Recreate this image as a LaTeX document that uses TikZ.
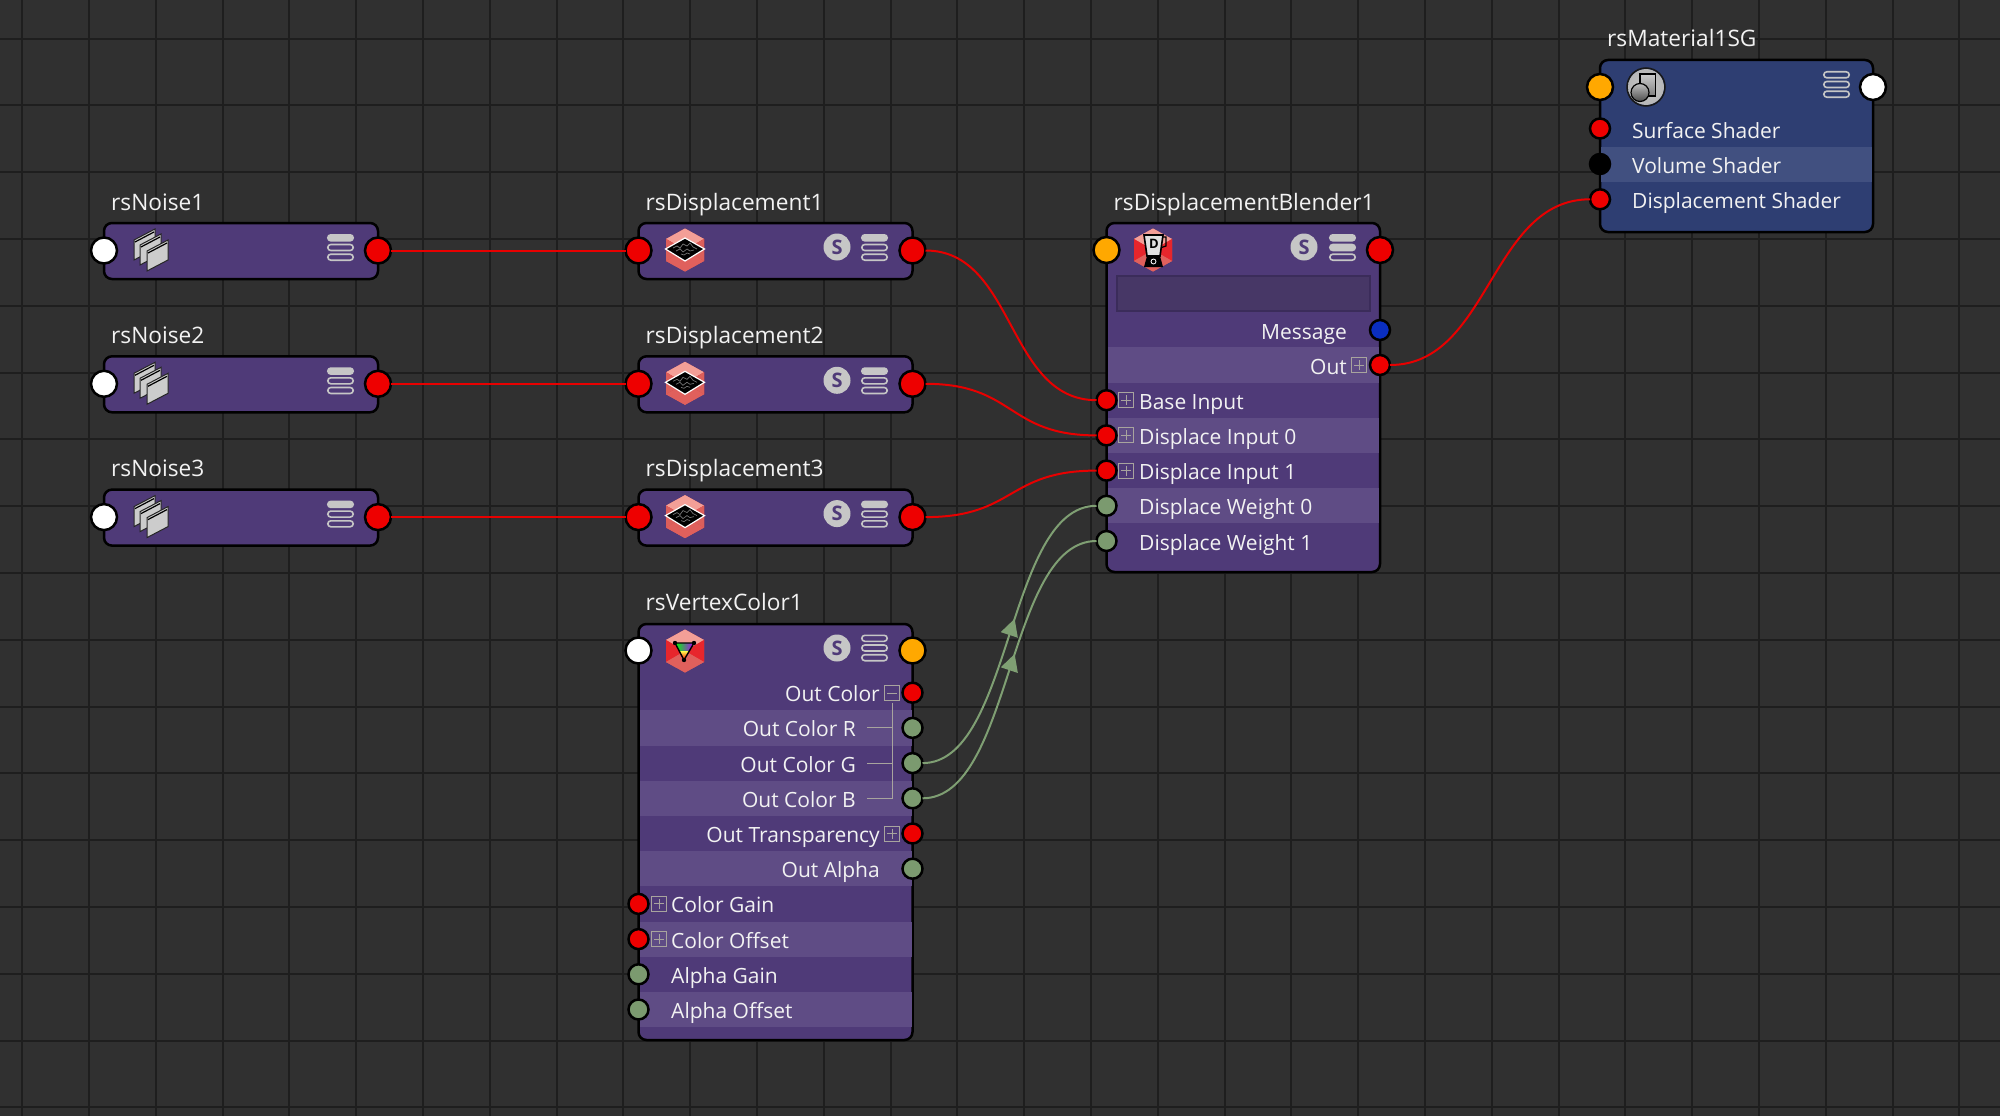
\documentclass[tikz,border=0pt]{standalone}
\usepackage{fontspec}
\setmainfont{Open Sans}
\usetikzlibrary{arrows.meta,decorations.markings,shapes.geometric,calc}
\definecolor{bgc}{HTML}{303030}
\definecolor{gridc}{HTML}{1E1E1E}
\definecolor{purp}{HTML}{4F3A78}
\definecolor{purpl}{HTML}{5F4C85}
\definecolor{blu}{HTML}{2E3E72}
\definecolor{blul}{HTML}{415080}
\definecolor{redp}{HTML}{EE0000}
\definecolor{orgp}{HTML}{FFA800}
\definecolor{grnp}{HTML}{7B9A6F}
\definecolor{blup}{HTML}{0A2EC0}
\definecolor{txt}{HTML}{F2F2F2}
\definecolor{wire}{HTML}{E80000}
\definecolor{gwire}{HTML}{7F9F73}
\definecolor{hamc}{HTML}{C6C6C6}
\definecolor{boxc}{HTML}{A8A49E}
\tikzset{
  x=1pt,y=-1pt,
  body/.style={draw=black,line width=2.5pt,rounded corners=8pt,anchor=north west,inner sep=0pt,outer sep=0pt},
  bigport/.style={circle,draw=black,line width=2.5pt,minimum size=26pt,inner sep=0pt,outer sep=0pt},
  smallport/.style={circle,draw=black,line width=2.5pt,minimum size=20pt,inner sep=0pt,outer sep=0pt},
  title/.style={anchor=base west,text=txt,inner sep=0pt,font=\fontsize{22.7}{25}\selectfont},
  rowr/.style={anchor=base east,text=txt,inner sep=0pt,yshift=-9pt,font=\fontsize{21}{24}\selectfont},
  rowl/.style={anchor=base west,text=txt,inner sep=0pt,yshift=-9pt,font=\fontsize{21}{24}\selectfont},
  scirc/.style={circle,fill=hamc,minimum size=27pt,inner sep=0pt,text=purp,font=\fontsize{20}{21}\bfseries\selectfont},
  redwire/.style={draw=wire,line width=2pt},
  greenwire/.style={draw=gwire,line width=2pt,postaction={decorate},
    decoration={markings,mark=at position 0.55 with {\arrow[gwire,line width=0pt]{Triangle[length=17pt,width=18pt]}}}},
  boxline/.style={draw=boxc,line width=1pt},
}
\newcommand{\hambars}[3]{% x y nfilled
  \foreach \i in {1,2,3}{
    \pgfmathsetmacro{\yy}{#2+(\i-2)*9.7}
    \ifnum\i>#3\relax
      \draw[hamc,line width=1.6pt,rounded corners=3pt] (#1+0.8,\yy-3) rectangle (#1+26.2,\yy+3);
    \else
      \draw[hamc,fill=hamc,line width=1.6pt,rounded corners=3pt] (#1+0.8,\yy-3) rectangle (#1+26.2,\yy+3);
    \fi
  }}
\newcommand{\plusbox}[2]{\draw[boxline] (#1-7.5,#2-7.5) rectangle (#1+7.5,#2+7.5);
  \draw[boxline] (#1-5,#2) -- (#1+5,#2) (#1,#2-5) -- (#1,#2+5);}
\newcommand{\minusbox}[2]{\draw[boxline] (#1-7.5,#2-7.5) rectangle (#1+7.5,#2+7.5);
  \draw[boxline] (#1-5,#2) -- (#1+5,#2);}
\newcommand{\noiseicon}[2]{\begin{scope}[shift={(#1,#2)}]
  \foreach \dx/\dy in {-13/-11,-7/-6,0/0}{
    \draw[fill=black!20,draw=black!85,line width=1pt,shift={(\dx,\dy)}]
      (-4,1) -- (17,-10) -- (17,10) -- (-4,21) -- cycle;
    \draw[black,line width=1.2pt,shift={(\dx,\dy)}] (-3,3) -- (16,-7);
  }
\end{scope}}
\definecolor{HexLow}{HTML}{DB5F5B}
\definecolor{HexTop}{HTML}{F39F97}
\definecolor{HexBand}{HTML}{E7262C}
\definecolor{HexMid}{HTML}{E0605C}
\newcommand{\hexbase}[2]{\begin{scope}[shift={(#1,#2)}]
  \fill[HexLow] (0,-21.5) -- (19,-11) -- (19,11) -- (0,21.5) -- (-19,11) -- (-19,-11) -- cycle;
  \fill[HexTop] (0,-21.5) -- (19,-11) -- (0,0) -- (-19,-11) -- cycle;
  \fill[HexBand] (-19,-11) -- (0,0) -- (-19,11) -- cycle;
  \fill[HexBand] (19,-11) -- (0,0) -- (19,11) -- cycle;
  \fill[HexMid] (-19,11) -- (0,0) -- (19,11) -- (0,21.5) -- cycle;
\end{scope}}
\newcommand{\dispicon}[2]{\hexbase{#1}{#2}\begin{scope}[shift={(#1,#2)}]
  \fill[HexLow] (-19,-11) -- (0,0) -- (-19,11) -- cycle;
  \fill[HexLow] (19,-11) -- (0,0) -- (19,11) -- cycle;
  \draw[white,fill=black,line width=1.2pt] (-19.5,-1) -- (0,-12) -- (19.5,-1) -- (0,11) -- cycle;
  \draw[black!55,line width=.7pt] (-12,-2) -- (-8,-4) -- (-5,-2) -- (-2,-6) -- (2,-4) -- (5,-7) -- (8,-3) -- (12,-1)
     (-9,1) -- (-5,-1) -- (-2,2) -- (2,-1) -- (5,1) -- (9,0)
     (-4,4) -- (-1,5) -- (2,3) -- (5,4);
\end{scope}}
\newcommand{\blendicon}[2]{\hexbase{#1}{#2}\begin{scope}[shift={(#1,#2)}]
  \draw[black,line width=1.2pt] (8,-13) -- (13,-13) -- (13,-4) -- (7,-2);
  \draw[black,fill=black!12,line width=1.6pt] (-9,-15) -- (10,-15) -- (7,6) -- (-6,6) -- cycle;
  \node[inner sep=0pt,text=black,font=\fontsize{13}{14}\bfseries\selectfont] (blendD) at (1,-6) {D};
  \fill[black] (-6,6) -- (7,6) -- (10,17) -- (-9,17) -- cycle;
  \draw[white,line width=.8pt] (0.5,11.5) circle (2.5);
\end{scope}}
\newcommand{\vcicon}[2]{\hexbase{#1}{#2}\begin{scope}[shift={(#1,#2)}]
  \shade[left color=green,right color=magenta!70!blue] (-10,-8) -- (9,-8) -- (-1,9) -- cycle;
  \shade[top color=white!30!yellow,bottom color=red] (-5.5,0) -- (4.5,0) -- (-1,9) -- cycle;
  \draw[black,line width=1.4pt] (-10,-8) -- (9,-8) -- (-1,9) -- cycle;
  \fill[black] (-10,-8) circle (2.2) (9,-8) circle (2.2) (-1,9) circle (2.2);
\end{scope}}
\newcommand{\sgicon}[2]{\begin{scope}[shift={(#1,#2)}]
  \shade[inner color=black!22,outer color=black!28] (0,0) circle (18);
  \draw[black!90,line width=1.5pt] (0,0) circle (19);
  \draw[black,line width=1.2pt,top color=black!20,bottom color=black!50] (-6,-13) rectangle (9.5,9);
  \draw[black,line width=1.2pt,top color=black!25,bottom color=black!70] (-6,5.5) circle (9);
\end{scope}}
\begin{document}
\begin{tikzpicture}
\useasboundingbox (0,0) rectangle (2000,1116);
\fill[bgc] (0,0) rectangle (2000,1116);
% grid
\foreach \k in {-1,...,28}{\draw[gridc,line width=2pt] ({89+66.8*\k},0) -- ({89+66.8*\k},1116);}
\foreach \k in {-3,...,13}{\draw[gridc,line width=2pt] (0,{239+66.8*\k}) -- (2000,{239+66.8*\k});}

% bodies
\node[body,fill=purp,minimum width=274pt,minimum height=56pt] (n1) at (104,223) {};
\node[body,fill=purp,minimum width=274pt,minimum height=56pt] (n2) at (104,356.3) {};
\node[body,fill=purp,minimum width=274pt,minimum height=56pt] (n3) at (104,489.6) {};
\node[body,fill=purp,minimum width=274pt,minimum height=56pt] (d1) at (638.5,223) {};
\node[body,fill=purp,minimum width=274pt,minimum height=56pt] (d2) at (638.5,356.3) {};
\node[body,fill=purp,minimum width=274pt,minimum height=56pt] (d3) at (638.5,489.6) {};
\node[body,fill=purp,minimum width=273.5pt,minimum height=349pt] (bl) at (1106.5,223) {};
\node[body,fill=purp,minimum width=274pt,minimum height=416pt] (vc) at (638.5,624) {};
\node[body,fill=blu,minimum width=273pt,minimum height=172pt] (sg) at (1600,60) {};

% stripes
\foreach \y in {365,435.4,505.8}{\fill[purpl] (1108,\y-17.6) rectangle (1379,\y+17.6);}
\foreach \y in {727.9,798.3,868.7,939.1,1009.5}{\fill[purpl] (640,\y-17.6) rectangle (911.5,\y+17.6);}
\fill[blul] (1601.3,146.5) rectangle (1871.7,181.7);

% text field
\draw[draw=purp!75!black,fill=purp!75!bgc,line width=1.5pt] (1117,276) rectangle (1370,311);

% titles
\node[title] (tn1) at (111,210) {rsNoise1};
\node[title] (tn2) at (111,343.3) {rsNoise2};
\node[title] (tn3) at (111,476.6) {rsNoise3};
\node[title] (td1) at (645.5,210) {rsDisplacement1};
\node[title] (td2) at (645.5,343.3) {rsDisplacement2};
\node[title] (td3) at (645.5,476.6) {rsDisplacement3};
\node[title] (tbl) at (1113.5,210) {rsDisplacementBlender1};
\node[title] (tvc) at (645.5,610) {rsVertexColor1};
\node[title] (tsg) at (1607,47) {rsMaterial1SG};

% icons and header controls
\noiseicon{151}{250}\noiseicon{151}{383.3}\noiseicon{151}{516.6}
\dispicon{685}{250}\dispicon{685}{383.3}\dispicon{685}{516.6}
\blendicon{1153}{250}
\vcicon{685}{651}
\sgicon{1646}{87}
\hambars{327}{247.5}{1}\hambars{327}{380.8}{1}\hambars{327}{514.1}{1}
\hambars{861}{247.5}{1}\hambars{861}{380.8}{1}\hambars{861}{514.1}{1}
\hambars{1329}{247.5}{2}
\hambars{861}{648}{0}
\hambars{1823}{84.5}{0}
\node[scirc] (s1) at (837,247) {S};
\node[scirc] (s2) at (837,380.3) {S};
\node[scirc] (s3) at (837,513.6) {S};
\node[scirc] (s4) at (1304,247) {S};
\node[scirc] (s5) at (837,648) {S};

% blender rows
\node[rowr] (lmsg) at (1347,330) {Message};
\node[rowr] (lout) at (1347,365) {Out};
\plusbox{1359}{365}
\plusbox{1126}{400.2}\plusbox{1126}{435.4}\plusbox{1126}{470.6}
\node[rowl] (lbase) at (1139,400.2) {Base Input};
\node[rowl] (ld0) at (1139,435.4) {Displace Input 0};
\node[rowl] (ld1) at (1139,470.6) {Displace Input 1};
\node[rowl] (lw0) at (1139,505.8) {Displace Weight 0};
\node[rowl] (lw1) at (1139,541) {Displace Weight 1};

% vertex colour rows
\node[rowr] (voc) at (880,692.7) {Out Color};
\node[rowr] (vr) at (856,727.9) {Out Color R};
\node[rowr] (vg) at (856,763.1) {Out Color G};
\node[rowr] (vb) at (856,798.3) {Out Color B};
\node[rowr] (vt) at (880,833.5) {Out Transparency};
\node[rowr] (va) at (880,868.7) {Out Alpha};
\node[rowl] (vcg) at (671,903.9) {Color Gain};
\node[rowl] (vco) at (671,939.1) {Color Offset};
\node[rowl] (vag) at (671,974.3) {Alpha Gain};
\node[rowl] (vao) at (671,1009.5) {Alpha Offset};
\minusbox{892}{693}
\plusbox{892}{833.5}
\plusbox{659}{903.9}\plusbox{659}{939.1}
\draw[boxline] (892,703) -- (892,798.3) -- (867,798.3) (892,727.9) -- (867,727.9) (892,763.1) -- (867,763.1);

% material rows
\node[rowl] (ms) at (1632,129) {Surface Shader};
\node[rowl] (mv) at (1632,164.3) {Volume Shader};
\node[rowl] (md) at (1632,199.5) {Displacement Shader};

% ports
\node[bigport,fill=white] (n1i) at (104,250.5) {};
\node[bigport,fill=redp] (n1o) at (378,250.5) {};
\node[bigport,fill=white] (n2i) at (104,383.8) {};
\node[bigport,fill=redp] (n2o) at (378,383.8) {};
\node[bigport,fill=white] (n3i) at (104,517.1) {};
\node[bigport,fill=redp] (n3o) at (378,517.1) {};
\node[bigport,fill=redp] (d1i) at (638.5,250.5) {};
\node[bigport,fill=redp] (d1o) at (912.5,250.5) {};
\node[bigport,fill=redp] (d2i) at (638.5,383.8) {};
\node[bigport,fill=redp] (d2o) at (912.5,383.8) {};
\node[bigport,fill=redp] (d3i) at (638.5,517.1) {};
\node[bigport,fill=redp] (d3o) at (912.5,517.1) {};
\node[bigport,fill=orgp] (bli) at (1106.5,250) {};
\node[bigport,fill=redp] (blo) at (1380,250) {};
\node[smallport,fill=blup] (blm) at (1380,330) {};
\node[smallport,fill=redp] (blout) at (1380,365) {};
\node[smallport,fill=redp] (blb) at (1106.5,400.2) {};
\node[smallport,fill=redp] (bl0) at (1106.5,435.4) {};
\node[smallport,fill=redp] (bl1) at (1106.5,470.6) {};
\node[smallport,fill=grnp] (blw0) at (1106.5,505.8) {};
\node[smallport,fill=grnp] (blw1) at (1106.5,541) {};
\node[bigport,fill=white] (vci) at (638.5,650.5) {};
\node[bigport,fill=orgp] (vco1) at (912.5,650.5) {};
\node[smallport,fill=redp] (vp1) at (912.5,692.7) {};
\node[smallport,fill=grnp] (vp2) at (912.5,727.9) {};
\node[smallport,fill=grnp] (vp3) at (912.5,763.1) {};
\node[smallport,fill=grnp] (vp4) at (912.5,798.3) {};
\node[smallport,fill=redp] (vp5) at (912.5,833.5) {};
\node[smallport,fill=grnp] (vp6) at (912.5,868.7) {};
\node[smallport,fill=redp] (vp7) at (638.5,903.9) {};
\node[smallport,fill=redp] (vp8) at (638.5,939.1) {};
\node[smallport,fill=grnp] (vp9) at (638.5,974.3) {};
\node[smallport,fill=grnp] (vp10) at (638.5,1009.5) {};
\node[bigport,fill=orgp] (sgi) at (1600,87) {};
\node[bigport,fill=white] (sgo) at (1873,87) {};
\node[smallport,fill=redp] (sgs) at (1600,128.5) {};
\node[smallport,fill=black] (sgv) at (1600,164) {};
\node[smallport,fill=redp] (sgd) at (1600,199.3) {};

% connectors
\draw[redwire] (n1o.east) -- (d1i.west);
\draw[redwire] (n2o.east) -- (d2i.west);
\draw[redwire] (n3o.east) -- (d3i.west);
\draw[redwire] (d1o.east) .. controls +(90,0) and +(-90,0) .. (blb.west);
\draw[redwire] (d2o.east) .. controls +(90,0) and +(-90,0) .. (bl0.west);
\draw[redwire] (d3o.east) .. controls +(90,0) and +(-90,0) .. (bl1.west);
\draw[redwire] (blout.east) .. controls +(100,0) and +(-100,0) .. (sgd.west);
\draw[greenwire] (vp3.east) .. controls +(90,0) and +(-90,0) .. (blw0.west);
\draw[greenwire] (vp4.east) .. controls +(90,0) and +(-90,0) .. (blw1.west);
\end{tikzpicture}
\end{document}
